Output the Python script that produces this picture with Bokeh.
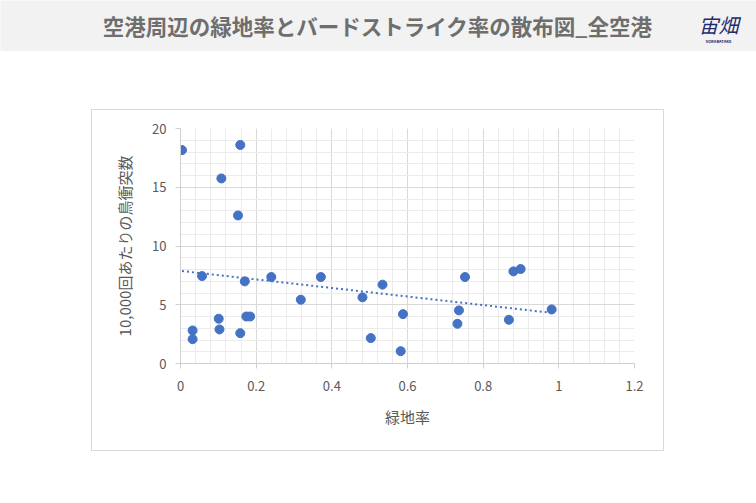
import numpy as np
from bokeh.plotting import figure
from bokeh.models import (Range1d, FixedTicker, CustomJSTickFormatter, Spacer,
                          ColumnDataSource)
from bokeh.layouts import column, row
from bokeh.core.properties import value
from bokeh.embed import file_html
from bokeh.resources import INLINE

# ---- data ----
green_ratio = [0.004, 0.158, 0.108, 0.152, 0.057, 0.170, 0.240, 0.371, 0.534,
               0.752, 0.880, 0.899, 0.588, 0.736, 0.981, 0.732, 0.868, 0.582,
               0.318, 0.101, 0.032, 0.032, 0.103, 0.158, 0.174, 0.184, 0.481,
               0.503]
strike_rate = [18.16, 18.6, 15.75, 12.6, 7.44, 6.99, 7.36, 7.36, 6.71,
               7.36, 7.84, 8.04, 4.2, 4.52, 4.6, 3.38, 3.72, 1.05,
               5.43, 3.81, 2.81, 2.07, 2.9, 2.58, 4.0, 4.0, 5.63,
               2.16]
x_ticks = [0, 0.2, 0.4, 0.6, 0.8, 1.0, 1.2]
y_ticks = [0, 5, 10, 15, 20]

title_text = "空港周辺の緑地率とバードストライク率の散布図_全空港"
x_label = "緑地率"
y_label = "10,000回あたりの鳥衝突数"

FONT = "Noto Sans CJK JP"
BLUE = "#4472c4"

# ---- header band ----
hdr = figure(width=756, height=51, output_backend="svg", toolbar_location=None,
             x_range=Range1d(0, 756), y_range=Range1d(51, 0),
             min_border=0, background_fill_color="#f2f2f2",
             border_fill_color="#f2f2f2")
hdr.axis.visible = False
hdr.grid.visible = False
hdr.outline_line_color = None
hdr.text(x=[377], y=[25], text=[title_text], text_font=value(FONT),
         text_font_size="21.5px", text_font_style="bold", text_color="#6e6e6e",
         text_align="center", text_baseline="middle")
hdr.text(x=[718], y=[24], text=["宙畑"], text_font=value(FONT),
         text_font_size="20px", text_font_style="italic", text_color="#1f2d6e",
         text_align="center", text_baseline="middle")
hdr.text(x=[718], y=[40], text=["SORABATAKE"], text_font=value(FONT),
         text_font_size="4px", text_font_style="bold", text_color="#1f2d6e",
         text_align="center", text_baseline="middle")

# ---- chart ----
p = figure(width=571, height=340, output_backend="svg", toolbar_location=None,
           x_range=Range1d(0, 1.2), y_range=Range1d(0, 20),
           min_border_left=88, min_border_right=29, min_border_top=18,
           min_border_bottom=87, border_fill_color="white")
p.styles = {"outline": "1px solid #d9d9d9", "outline-offset": "0px"}
p.outline_line_color = None

p.xaxis.ticker = FixedTicker(ticks=x_ticks,
                             minor_ticks=[round(i * 0.04, 2) for i in range(31)])
p.yaxis.ticker = FixedTicker(ticks=y_ticks, minor_ticks=list(range(21)))
p.xaxis.formatter = CustomJSTickFormatter(code="return String(Math.round(tick*10)/10);")

for ax in (p.xaxis, p.yaxis):
    ax.axis_line_color = "#d0d0d0"
    ax.major_tick_line_color = "#d0d0d0"
    ax.major_tick_out = 5
    ax.major_tick_in = 0
    ax.minor_tick_out = 0
    ax.minor_tick_in = 0
    ax.major_label_text_font = FONT
    ax.major_label_text_font_size = "13px"
    ax.major_label_text_color = "#595959"
    ax.axis_label_text_font = FONT
    ax.axis_label_text_font_size = "15px"
    ax.axis_label_text_font_style = "normal"
    ax.axis_label_text_color = "#595959"

p.xaxis.axis_label = x_label
p.yaxis.axis_label = y_label
p.xaxis.major_label_standoff = 12
p.yaxis.major_label_standoff = 9
p.xaxis.axis_label_standoff = 12
p.yaxis.axis_label_standoff = 14

p.grid.grid_line_color = "#d9d9d9"
p.grid.minor_grid_line_color = "#ebebeb"

# trend line (least-squares fit, as in the spreadsheet)
gx = np.array(green_ratio)
gy = np.array(strike_rate)
slope, intercept = np.polyfit(gx, gy, 1)
tx = [gx.min(), gx.max()]
ty = [intercept + slope * t for t in tx]
p.line(tx, ty, line_color=BLUE, line_width=2, line_dash="2 3")

src = ColumnDataSource(dict(x=green_ratio, y=strike_rate))
p.scatter("x", "y", source=src, size=9, fill_color=BLUE, line_color=BLUE)

layout = column(hdr, Spacer(height=59, width=756),
                row(Spacer(width=92, height=340), p))

open("out.html", "w").write(file_html(layout, INLINE))
